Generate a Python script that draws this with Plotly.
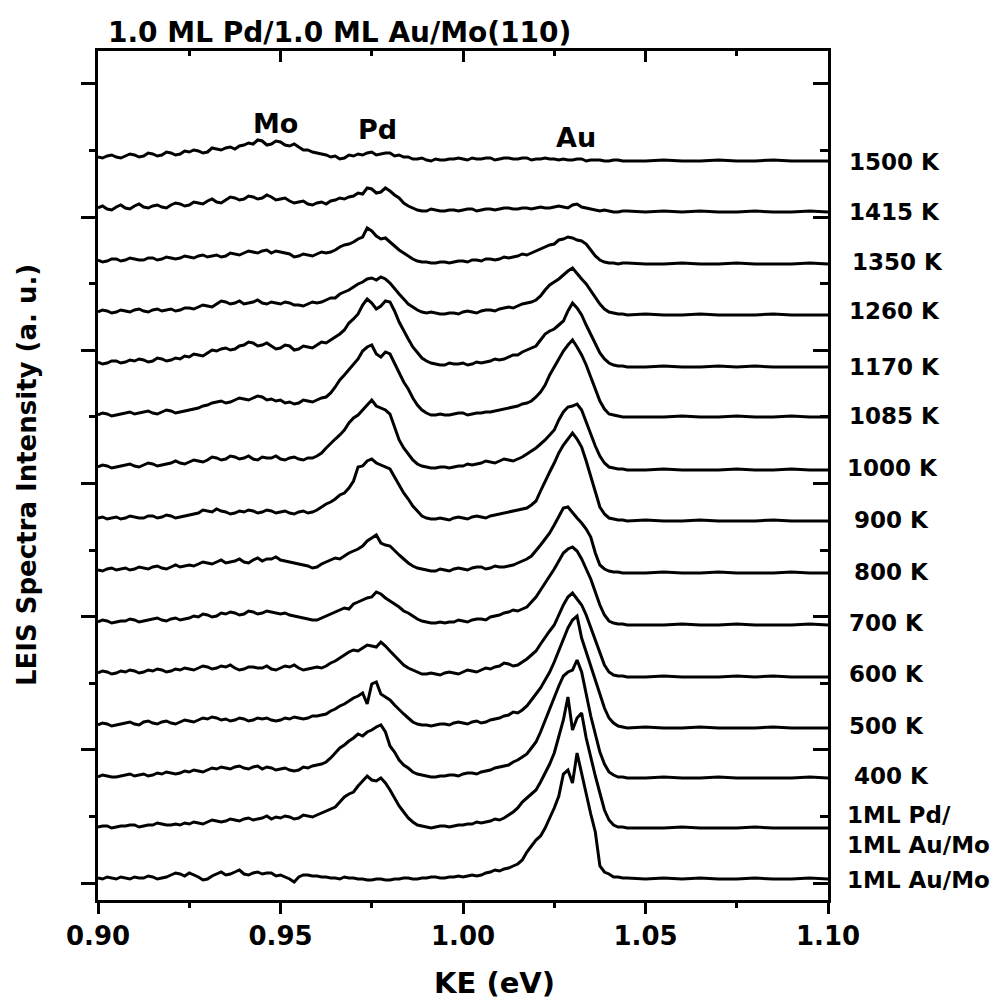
import plotly.graph_objects as go

# ---------------- data ----------------
energy_ev = [
    0.90000, 0.90125, 0.90250, 0.90375, 0.90500, 0.90625, 0.90750, 0.90875, 0.91000, 0.91125,
    0.91250, 0.91375, 0.91500, 0.91625, 0.91750, 0.91875, 0.92000, 0.92125, 0.92250, 0.92375,
    0.92500, 0.92625, 0.92750, 0.92875, 0.93000, 0.93125, 0.93250, 0.93375, 0.93500, 0.93625,
    0.93750, 0.93875, 0.94000, 0.94125, 0.94250, 0.94375, 0.94500, 0.94625, 0.94750, 0.94875,
    0.95000, 0.95125, 0.95250, 0.95375, 0.95500, 0.95625, 0.95750, 0.95875, 0.96000, 0.96125,
    0.96250, 0.96375, 0.96500, 0.96625, 0.96750, 0.96875, 0.97000, 0.97125, 0.97250, 0.97375,
    0.97500, 0.97625, 0.97750, 0.97875, 0.98000, 0.98125, 0.98250, 0.98375, 0.98500, 0.98625,
    0.98750, 0.98875, 0.99000, 0.99125, 0.99250, 0.99375, 0.99500, 0.99625, 0.99750, 0.99875,
    1.00000, 1.00125, 1.00250, 1.00375, 1.00500, 1.00625, 1.00750, 1.00875, 1.01000, 1.01125,
    1.01250, 1.01375, 1.01500, 1.01625, 1.01750, 1.01875, 1.02000, 1.02125, 1.02250, 1.02375,
    1.02500, 1.02625, 1.02750, 1.02875, 1.03000, 1.03125, 1.03250, 1.03375, 1.03500, 1.03625,
    1.03750, 1.03875, 1.04000, 1.04125, 1.04250, 1.04375, 1.04500,
    1.050, 1.055, 1.060, 1.065, 1.070, 1.075, 1.080, 1.085, 1.090, 1.095, 1.100]

spectrum_labels = ["1500 K", "1415 K", "1350 K", "1260 K", "1170 K", "1085 K", "1000 K",
                   "900 K", "800 K", "700 K", "600 K", "500 K", "400 K",
                   "1ML Pd/<br>1ML Au/Mo", "1ML Au/Mo"]

# vertical offset of each stacked spectrum (a. u.)
baseline_offsets = [739, 688, 636, 585, 533, 483, 430, 379, 327, 275, 223, 172, 122, 72, 20]

int_1500K = [
    4, 3, 5, 6, 4, 3, 5, 7, 6, 4,
    5, 8, 7, 5, 6, 9, 8, 6, 7, 10,
    9, 11, 10, 8, 9, 13, 12, 11, 13, 14,
    12, 15, 16, 18, 17, 21, 20, 16, 17, 20,
    19, 16, 15, 17, 14, 11, 11, 9, 8, 7,
    6, 4, 5, 2, 3, 6, 5, 7, 6, 8,
    9, 6, 7, 8, 8, 5, 6, 4, 4, 2,
    2, 3, 1, 0, 2, 1, 1, 2, 2, 3,
    2, 1, 3, 2, 2, 3, 3, 1, 2, 3,
    3, 2, 2, 3, 3, 1, 2, 2, 3, 2,
    2, 1, 2, 1, 1, 2, 2, 0, 1, 1,
    1, 0, 0, 1, 1, 0, 0,
    0, 1, 0, 0, 1, 0, 0, 1, 0, 0, 0]
int_1415K = [
    4, 6, 3, 2, 5, 7, 4, 3, 6, 8,
    5, 4, 6, 7, 5, 4, 7, 9, 8, 6,
    7, 10, 9, 8, 11, 13, 10, 9, 12, 15,
    14, 12, 13, 16, 15, 13, 14, 17, 15, 12,
    13, 14, 11, 9, 10, 11, 8, 7, 9, 10,
    8, 11, 12, 14, 13, 15, 16, 19, 18, 24,
    23, 19, 20, 24, 21, 17, 14, 9, 6, 4,
    2, 1, 1, 3, 2, 1, 1, 2, 2, 1,
    2, 3, 3, 1, 2, 3, 3, 2, 3, 4,
    4, 3, 3, 4, 4, 3, 4, 5, 4, 4,
    5, 6, 5, 4, 7, 8, 5, 4, 3, 2,
    1, 2, 1, 0, 0, 1, 1,
    0, 1, 0, 1, 0, 0, 1, 0, 0, 1, 0]
int_1350K = [
    4, 2, 3, 5, 5, 3, 4, 6, 5, 4,
    4, 6, 6, 4, 5, 7, 6, 5, 6, 8,
    7, 6, 8, 9, 7, 8, 9, 7, 8, 11,
    10, 9, 11, 13, 12, 11, 13, 14, 11, 13,
    12, 11, 10, 7, 8, 10, 9, 8, 10, 12,
    11, 12, 14, 17, 19, 20, 22, 25, 27, 36,
    33, 28, 25, 26, 22, 18, 14, 11, 8, 5,
    3, 2, 2, 1, 1, 2, 2, 1, 2, 3,
    3, 2, 4, 4, 3, 5, 5, 4, 5, 7,
    6, 7, 8, 10, 9, 11, 13, 15, 17, 19,
    20, 24, 25, 27, 26, 24, 23, 20, 14, 8,
    4, 2, 1, 1, 0, 1, 1,
    0, 0, 1, 0, 0, 1, 0, 0, 0, 1, 0]
int_1260K = [
    3, 5, 4, 2, 3, 5, 4, 3, 5, 6,
    4, 3, 5, 6, 4, 5, 6, 4, 5, 7,
    7, 6, 8, 10, 9, 8, 11, 14, 13, 11,
    12, 14, 11, 12, 13, 15, 12, 11, 13, 12,
    11, 13, 12, 10, 10, 9, 11, 13, 12, 13,
    15, 17, 17, 21, 23, 25, 28, 31, 33, 36,
    37, 35, 38, 36, 32, 26, 21, 16, 11, 8,
    5, 3, 2, 3, 2, 1, 1, 2, 2, 1,
    3, 4, 3, 2, 4, 5, 5, 4, 6, 7,
    8, 7, 9, 11, 12, 13, 15, 19, 25, 30,
    33, 36, 40, 44, 47, 41, 36, 31, 24, 17,
    11, 6, 3, 2, 1, 1, 0,
    1, 0, 0, 1, 0, 0, 0, 1, 0, 0, 0]
int_1170K = [
    5, 3, 4, 6, 6, 4, 5, 7, 6, 8,
    7, 5, 6, 9, 8, 6, 7, 9, 8, 11,
    10, 13, 12, 11, 14, 17, 16, 18, 19, 17,
    18, 21, 22, 25, 24, 21, 22, 24, 21, 18,
    19, 22, 21, 17, 18, 21, 20, 19, 22, 25,
    24, 27, 30, 33, 37, 44, 48, 53, 62, 68,
    64, 58, 61, 66, 65, 56, 45, 36, 28, 20,
    14, 9, 6, 4, 3, 2, 2, 4, 3, 3,
    4, 2, 3, 5, 4, 5, 6, 8, 7, 8,
    10, 12, 12, 15, 17, 19, 21, 27, 33, 36,
    38, 42, 46, 56, 64, 59, 52, 42, 33, 23,
    14, 8, 4, 2, 1, 1, 0,
    0, 1, 0, 0, 1, 0, 1, 0, 0, 0, 0]
int_1085K = [
    2, 4, 3, 1, 2, 3, 4, 5, 3, 4,
    5, 6, 4, 3, 5, 7, 6, 4, 5, 6,
    7, 8, 9, 11, 12, 14, 15, 16, 14, 15,
    17, 19, 18, 17, 19, 21, 20, 17, 18, 16,
    17, 14, 15, 13, 14, 17, 16, 15, 17, 19,
    20, 24, 30, 37, 42, 47, 53, 58, 66, 70,
    72, 63, 60, 65, 63, 54, 44, 35, 28, 19,
    12, 7, 4, 2, 2, 3, 2, 2, 3, 4,
    4, 2, 3, 4, 4, 5, 5, 6, 7, 8,
    9, 10, 11, 13, 14, 16, 20, 25, 32, 42,
    50, 57, 66, 72, 77, 70, 62, 52, 40, 28,
    16, 8, 3, 2, 1, 0, 0,
    0, 0, 1, 0, 0, 1, 0, 0, 1, 0, 0]
int_1000K = [
    3, 5, 4, 2, 3, 4, 5, 6, 4, 3,
    5, 7, 6, 4, 5, 6, 7, 9, 7, 6,
    8, 10, 9, 8, 10, 13, 12, 10, 11, 14,
    13, 11, 12, 14, 11, 10, 13, 12, 12, 14,
    11, 10, 12, 13, 11, 10, 12, 12, 14, 17,
    22, 27, 31, 35, 40, 47, 52, 55, 60, 66,
    70, 64, 62, 60, 56, 42, 30, 22, 16, 10,
    6, 4, 3, 2, 2, 3, 3, 2, 3, 4,
    4, 6, 5, 6, 7, 9, 8, 7, 9, 11,
    10, 9, 11, 13, 16, 19, 22, 26, 30, 35,
    40, 50, 58, 63, 64, 66, 60, 48, 35, 24,
    14, 7, 3, 2, 1, 1, 0,
    0, 1, 0, 0, 0, 1, 0, 0, 1, 0, 0]
int_900K = [
    3, 4, 2, 3, 4, 2, 3, 5, 4, 3,
    3, 5, 5, 3, 4, 6, 5, 3, 4, 5,
    6, 7, 8, 11, 10, 9, 12, 10, 9, 7,
    8, 10, 9, 11, 10, 8, 9, 11, 10, 8,
    9, 10, 8, 7, 9, 10, 8, 9, 11, 14,
    17, 19, 22, 26, 28, 33, 40, 54, 55, 60,
    62, 58, 56, 54, 52, 44, 36, 28, 22, 15,
    10, 5, 3, 2, 2, 3, 2, 1, 3, 4,
    3, 2, 4, 5, 4, 3, 5, 6, 7, 8,
    9, 10, 11, 12, 13, 16, 20, 30, 40, 49,
    58, 68, 76, 82, 88, 82, 74, 60, 45, 28,
    14, 7, 3, 2, 1, 1, 0,
    1, 0, 0, 1, 0, 0, 0, 1, 0, 0, 0]
int_800K = [
    3, 2, 4, 5, 3, 4, 5, 3, 4, 6,
    5, 4, 6, 7, 5, 4, 6, 8, 6, 7,
    8, 7, 9, 11, 10, 9, 11, 13, 10, 11,
    12, 14, 11, 10, 13, 15, 12, 14, 14, 16,
    13, 12, 11, 10, 9, 8, 7, 5, 6, 9,
    11, 13, 15, 14, 17, 20, 22, 24, 27, 32,
    35, 38, 30, 28, 27, 22, 18, 14, 10, 7,
    5, 4, 3, 2, 2, 4, 3, 2, 4, 5,
    4, 3, 5, 6, 6, 4, 5, 7, 6, 6,
    7, 8, 10, 12, 14, 17, 22, 28, 34, 40,
    48, 56, 65, 66, 60, 55, 50, 44, 36, 20,
    8, 4, 2, 1, 1, 0, 0,
    0, 1, 0, 0, 1, 0, 0, 0, 1, 0, 0]
int_700K = [
    3, 5, 4, 2, 3, 4, 4, 6, 5, 3,
    4, 5, 6, 7, 5, 4, 6, 7, 5, 6,
    7, 9, 8, 11, 10, 8, 9, 12, 11, 13,
    12, 10, 11, 14, 13, 11, 12, 14, 13, 12,
    11, 12, 10, 9, 8, 7, 6, 5, 5, 7,
    9, 11, 13, 15, 17, 16, 21, 23, 25, 27,
    28, 33, 31, 27, 24, 21, 18, 14, 12, 9,
    6, 4, 3, 2, 2, 3, 2, 3, 3, 5,
    4, 3, 5, 6, 6, 5, 8, 9, 10, 12,
    13, 15, 14, 16, 18, 23, 28, 35, 42, 48,
    56, 64, 72, 76, 78, 74, 66, 56, 46, 33,
    20, 10, 4, 2, 1, 1, 0,
    0, 0, 1, 0, 0, 1, 0, 0, 0, 1, 0]
int_600K = [
    4, 6, 5, 3, 4, 6, 5, 7, 6, 4,
    5, 7, 6, 8, 7, 5, 6, 8, 7, 9,
    8, 7, 9, 11, 10, 8, 9, 11, 10, 12,
    9, 7, 8, 10, 10, 9, 9, 11, 8, 7,
    9, 11, 10, 12, 9, 7, 8, 9, 10, 9,
    11, 14, 16, 19, 22, 25, 27, 26, 29, 32,
    31, 30, 35, 31, 26, 21, 16, 12, 9, 7,
    5, 3, 3, 4, 3, 2, 4, 5, 4, 3,
    5, 7, 6, 5, 7, 9, 8, 10, 11, 14,
    13, 11, 12, 15, 18, 22, 26, 33, 40, 46,
    52, 62, 72, 80, 84, 78, 72, 62, 50, 37,
    24, 12, 5, 2, 1, 1, 0,
    0, 1, 0, 0, 0, 1, 0, 1, 0, 0, 0]
int_500K = [
    3, 5, 4, 2, 3, 4, 5, 6, 4, 3,
    6, 7, 5, 4, 6, 7, 5, 4, 6, 8,
    7, 6, 8, 10, 9, 11, 10, 8, 9, 7,
    8, 10, 9, 7, 8, 10, 9, 10, 8, 7,
    8, 10, 9, 11, 10, 9, 10, 12, 12, 13,
    14, 17, 19, 22, 24, 27, 30, 32, 35, 24,
    44, 46, 34, 31, 28, 23, 18, 14, 10, 6,
    4, 3, 3, 2, 3, 4, 4, 3, 5, 6,
    5, 4, 6, 7, 5, 6, 8, 9, 10, 12,
    13, 16, 15, 18, 22, 28, 34, 40, 48, 56,
    66, 78, 90, 100, 108, 112, 90, 76, 62, 48,
    34, 20, 10, 5, 2, 1, 0,
    1, 0, 0, 1, 0, 0, 0, 1, 0, 0, 0]
int_400K = [
    1, 3, 2, 1, 1, 2, 3, 4, 2, 3,
    4, 2, 3, 5, 4, 6, 5, 4, 5, 7,
    6, 8, 7, 6, 8, 10, 9, 11, 10, 9,
    11, 12, 10, 9, 11, 12, 9, 11, 10, 8,
    9, 10, 8, 7, 8, 11, 10, 12, 13, 14,
    16, 20, 25, 30, 33, 37, 40, 44, 42, 46,
    48, 51, 53, 46, 32, 26, 18, 13, 10, 6,
    4, 3, 2, 1, 1, 2, 2, 3, 3, 2,
    4, 5, 5, 4, 6, 7, 8, 10, 11, 12,
    13, 16, 18, 21, 24, 30, 36, 46, 58, 70,
    80, 92, 102, 106, 108, 118, 106, 82, 62, 44,
    26, 14, 6, 3, 1, 1, 0,
    0, 1, 0, 0, 1, 0, 0, 0, 0, 1, 0]
int_pd_au = [
    1, 2, 2, 0, 1, 2, 2, 3, 3, 1,
    2, 3, 3, 5, 4, 3, 3, 4, 3, 5,
    4, 6, 5, 4, 6, 8, 7, 6, 7, 9,
    8, 7, 9, 10, 8, 9, 10, 12, 9, 11,
    10, 12, 11, 9, 10, 13, 12, 11, 13, 15,
    17, 19, 21, 26, 31, 34, 36, 42, 47, 52,
    48, 47, 50, 45, 38, 30, 22, 16, 10, 6,
    3, 2, 1, 0, 1, 2, 2, 1, 2, 3,
    3, 4, 4, 6, 5, 6, 7, 9, 8, 10,
    13, 16, 20, 26, 30, 34, 38, 46, 55, 64,
    75, 92, 108, 131, 98, 110, 115, 90, 70, 52,
    35, 18, 8, 3, 1, 1, 0,
    0, 0, 1, 0, 0, 0, 1, 0, 0, 0, 0]
int_au = [
    2, 1, 3, 2, 1, 3, 2, 1, 3, 2,
    2, 4, 3, 1, 2, 3, 5, 7, 6, 4,
    7, 5, 3, 0, 1, 4, 6, 8, 5, 6,
    8, 10, 6, 5, 7, 8, 6, 7, 7, 4,
    5, 3, 1, -2, 3, 5, 5, 4, 4, 3,
    3, 2, 2, 1, 3, 2, 2, 1, 1, 0,
    0, 1, 1, 0, 0, 1, 1, 2, 2, 1,
    1, 2, 2, 3, 3, 2, 2, 3, 3, 4,
    3, 4, 5, 4, 5, 7, 8, 10, 9, 11,
    12, 14, 16, 20, 28, 34, 40, 44, 52, 62,
    72, 84, 106, 110, 97, 127, 106, 84, 66, 48,
    14, 8, 6, 3, 3, 2, 2,
    1, 2, 1, 2, 1, 1, 2, 1, 1, 2, 1]

spectra = [int_1500K, int_1415K, int_1350K, int_1260K, int_1170K, int_1085K, int_1000K,
           int_900K, int_800K, int_700K, int_600K, int_500K, int_400K, int_pd_au, int_au]

x_tick_vals = [0.90, 0.95, 1.00, 1.05, 1.10]
x_tick_text = ["0.90", "0.95", "1.00", "1.05", "1.10"]
x_minor_vals = [0.925, 0.975, 1.025, 1.075]

peak_names = ["Mo", "Pd", "Au"]
peak_energies = [0.9485, 0.9765, 1.031]

title_text = "1.0 ML Pd/1.0 ML Au/Mo(110)"
x_title = "KE (eV)"
y_title = "LEIS Spectra Intensity (a. u.)"

# ---------------- figure ----------------
FONT = "DejaVu Sans"
Y_MAX = 849.0
fig = go.Figure()

for vals, off in zip(spectra, baseline_offsets):
    n = min(len(vals), len(energy_ev))
    fig.add_trace(go.Scatter(
        x=energy_ev[:n], y=[v + off for v in vals[:n]], mode="lines",
        line=dict(color="black", width=3.0, shape="linear"),
        showlegend=False, hoverinfo="skip"))

# dummy trace so the mirrored (top / right) axes get drawn
fig.add_trace(go.Scatter(x=[0.9], y=[0], xaxis="x2", yaxis="y2", mode="lines",
                         line=dict(width=0), showlegend=False, hoverinfo="skip"))

y_major = [17 + 133.2 * k for k in range(7)]
y_minor = [17 + 66.6 + 133.2 * k for k in range(6)]

axis_common = dict(showgrid=False, zeroline=False, showline=True,
                   linecolor="black", linewidth=2.5, tickcolor="black", tickwidth=2.5)

fig.update_layout(
    width=1008, height=1004,
    margin=dict(l=98, r=180, t=51, b=104),
    plot_bgcolor="white", paper_bgcolor="white",
    font=dict(family=FONT, color="black"),
    xaxis=dict(range=[0.9, 1.1], tickmode="array", tickvals=x_tick_vals, ticktext=x_tick_text,
               ticks="outside", ticklen=11,
               tickfont=dict(family=FONT, size=26, weight="bold", color="black"),
               minor=dict(tickmode="array", tickvals=x_minor_vals, ticks="outside",
                          ticklen=5, tickwidth=2.5, tickcolor="black"),
               **axis_common),
    xaxis2=dict(range=[0.9, 1.1], overlaying="x", side="top", tickmode="array",
                tickvals=x_tick_vals, ticks="inside", ticklen=11, showticklabels=False,
                minor=dict(tickmode="array", tickvals=x_minor_vals, ticks="inside",
                           ticklen=5, tickwidth=2.5, tickcolor="black"),
                **axis_common),
    yaxis=dict(range=[0, Y_MAX], tickmode="array", tickvals=y_major, ticks="outside",
               ticklen=14, showticklabels=False,
               minor=dict(tickmode="array", tickvals=y_minor, ticks="outside",
                          ticklen=6, tickwidth=2.5, tickcolor="black"),
               **axis_common),
    yaxis2=dict(range=[0, Y_MAX], overlaying="y", side="right", tickmode="array",
                tickvals=y_major, ticks="inside", ticklen=15, showticklabels=False,
                minor=dict(tickmode="array", tickvals=y_minor, ticks="inside",
                           ticklen=8, tickwidth=2.5, tickcolor="black"),
                **axis_common),
)

PLOT_W = 730.0
def px_to_paper_x(px):
    return (px - 98) / PLOT_W

def px_to_paper_y(py):
    return (900 - py) / Y_MAX

# title
fig.add_annotation(text=title_text, xref="paper", yref="paper",
                   x=px_to_paper_x(106), y=px_to_paper_y(32), xanchor="left", yanchor="middle",
                   showarrow=False, font=dict(family=FONT, size=28, weight="bold", color="black"))
# axis titles
fig.add_annotation(text=x_title, xref="paper", yref="paper",
                   x=px_to_paper_x(494), y=px_to_paper_y(983), xanchor="center", yanchor="middle",
                   showarrow=False, font=dict(family=FONT, size=29, weight="bold", color="black"))
fig.add_annotation(text=y_title, xref="paper", yref="paper", textangle=-90,
                   x=px_to_paper_x(27), y=px_to_paper_y(475), xanchor="center", yanchor="middle",
                   showarrow=False, font=dict(family=FONT, size=26, weight="bold", color="black"))

# peak names
peak_label_py = [123, 129, 138]
for name, e, py in zip(peak_names, peak_energies, peak_label_py):
    fig.add_annotation(text=name, xref="x", yref="paper", x=e, y=px_to_paper_y(py),
                       xanchor="center", yanchor="middle", showarrow=False,
                       font=dict(family=FONT, size=27, weight="bold", color="black"))

# spectrum labels on the right
label_py = [162, 212, 262, 311, 367, 416, 468, 520, 572, 623, 674, 726, 776, 830, 880]
label_px = [847, 847, 850, 847, 847, 847, 845, 852, 852, 847, 847, 847, 852, 845, 845]
for lab, px, py in zip(spectrum_labels, label_px, label_py):
    fig.add_annotation(text=lab, xref="paper", yref="paper", x=px_to_paper_x(px),
                       y=px_to_paper_y(py), xanchor="left", yanchor="middle", align="left",
                       showarrow=False, font=dict(family=FONT, size=23, weight="bold", color="black"))

fig.write_html("out.html")
